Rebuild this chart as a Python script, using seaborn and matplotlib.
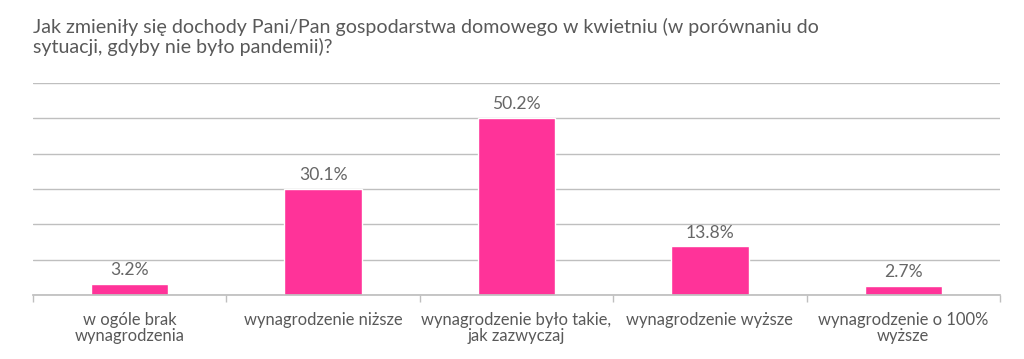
import matplotlib
matplotlib.use("Agg")
import matplotlib.pyplot as plt
import seaborn as sns
import pandas as pd

categories = ["w ogóle brak\nwynagrodzenia", "wynagrodzenie niższe",
              "wynagrodzenie było takie,\njak zazwyczaj", "wynagrodzenie wyższe",
              "wynagrodzenie o 100%\nwyższe"]
values = [3.2, 30.1, 50.2, 13.8, 2.7]
labels = ["3.2%", "30.1%", "50.2%", "13.8%", "2.7%"]
title = "Jak zmieniły się dochody Pani/Pan gospodarstwa domowego w kwietniu (w porównaniu do\nsytuacji, gdyby nie było pandemii)?"

sns.set_theme(style="white")
plt.rcParams['font.family'] = ['Lato', 'DejaVu Sans']

df = pd.DataFrame({"cat": categories, "val": values})
fig = plt.figure(figsize=(10.24, 3.59), dpi=100)
ax = fig.add_axes([0.0322, 0.178, 0.9444, 0.591])
sns.barplot(data=df, x="cat", y="val", color="#FF3399", width=0.4, ax=ax, saturation=1)
ax.set_ylim(0, 60)
ax.set_xlim(-0.5, 4.5)
ax.set_yticks(range(0, 61, 10))
ax.yaxis.grid(True, color="#BFBFBF", linewidth=1)
ax.set_axisbelow(True)
ax.tick_params(axis="y", left=False, labelleft=False)
for s in ["left", "right", "top"]:
    ax.spines[s].set_visible(False)
ax.spines["bottom"].set_color("#BFBFBF")
ax.set_xlabel("")
ax.set_ylabel("")
ax.set_xticks([i - 0.5 for i in range(6)], minor=False)
ax.set_xticklabels([])
ax.set_xticks(range(5), minor=True)
ax.set_xticklabels(categories, minor=True, fontsize=11.9, color="#595959", linespacing=1.05)
ax.tick_params(axis="x", which="major", bottom=True, length=5, color="#BFBFBF", width=1)
ax.tick_params(axis="x", which="minor", bottom=False, pad=8)
for i, (v, t) in enumerate(zip(values, labels)):
    ax.text(i, v + 1.5, t, ha="center", va="bottom", fontsize=12.6, color="#666666")
fig.text(0.0322, 0.95, title, ha="left", va="top", fontsize=14.1, color="#595959",
         linespacing=1.13)
fig.savefig("out.png", dpi=100)
